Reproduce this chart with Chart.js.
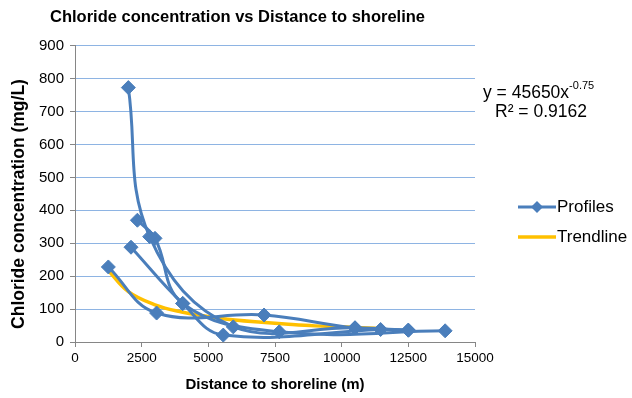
<!DOCTYPE html>
<html>
<head>
<meta charset="utf-8">
<script src="https://cdn.jsdelivr.net/npm/chart.js@4/dist/chart.umd.min.js"></script>
<style>
  html, body { margin: 0; padding: 0; background: #fff; }
  #box { width: 632px; height: 398px; }
</style>
</head>
<body>
<div id="box"><canvas id="chlorideChart"></canvas></div>
<script>
// profiles: [distance (m), chloride (mg/L)]
const profileA = [[2000, 773], [2800, 320], [5935, 46], [10500, 43], [12500, 36]];
const profileB = [[2340, 370], [3000, 315], [4040, 117], [7660, 31], [13880, 34]];
const profileC = [[2100, 288], [4040, 117], [5560, 21], [11460, 38]];
const profileD = [[1250, 228], [3060, 88], [7090, 82], [10500, 43], [12500, 36]];
// power trendline y = 45650x^-0.75, values read at a few distances
const trendX = [1250, 2000, 3000, 4000, 5000, 6000, 7000, 8000, 9000, 10000, 11500];
const trendY = [217, 153, 113, 91, 77, 67, 60, 54, 49, 46, 41];
const xTicks = [0, 2500, 5000, 7500, 10000, 12500, 15000];

const blue = "#4A7EBB";
const gold = "#FFC000";
const FONT = "'Liberation Sans', Arial, sans-serif";
const toPts = arr => arr.map(p => ({ x: p[0], y: p[1] }));

function profileSet(arr, label) {
    return {
        label: label,
        data: toPts(arr),
        borderColor: blue,
        backgroundColor: blue,
        borderWidth: 3,
        pointStyle: "rectRot",
        pointRadius: 7,
        pointBorderWidth: 1,
        showLine: true,
        tension: 0.4,
    };
}

// legend, equation and y title drawn around the plot
const sidePanel = {
    id: "sidePanel",
    afterDraw(chart) {
        const ctx = chart.ctx;
        ctx.save();
        ctx.fillStyle = "#000";
        ctx.textBaseline = "middle";

        // y axis title
        ctx.save();
        ctx.translate(19, 204);
        ctx.rotate(-Math.PI / 2);
        ctx.textAlign = "center";
        ctx.font = "bold 17.5px " + FONT;
        ctx.fillText("Chloride concentration (mg/L)", 0, 0);
        ctx.restore();

        ctx.font = "17.5px " + FONT;
        ctx.fillText("y = 45650x", 483, 93);
        const w = ctx.measureText("y = 45650x").width;
        ctx.font = "11px " + FONT;
        ctx.fillText("-0.75", 483 + w, 86);
        ctx.font = "17.5px " + FONT;
        ctx.fillText("R\u00B2 = 0.9162", 495, 112);

        // Profiles
        ctx.strokeStyle = blue;
        ctx.lineWidth = 3;
        ctx.beginPath();
        ctx.moveTo(518, 207);
        ctx.lineTo(556, 207);
        ctx.stroke();
        ctx.fillStyle = blue;
        ctx.beginPath();
        ctx.moveTo(537, 201);
        ctx.lineTo(543, 207);
        ctx.lineTo(537, 213);
        ctx.lineTo(531, 207);
        ctx.closePath();
        ctx.fill();
        // Trendline
        ctx.strokeStyle = gold;
        ctx.lineWidth = 3.5;
        ctx.beginPath();
        ctx.moveTo(518, 237);
        ctx.lineTo(556, 237);
        ctx.stroke();

        ctx.fillStyle = "#000";
        ctx.font = "17px " + FONT;
        ctx.fillText("Profiles", 557, 207);
        ctx.fillText("Trendline", 557, 237);
        ctx.restore();
    },
};

document.addEventListener("DOMContentLoaded", function () {
    const ctx = document.getElementById("chlorideChart").getContext("2d");
    Chart.defaults.font.family = FONT;
    Chart.defaults.color = "#000";

    new Chart(ctx, {
        type: "scatter",
        data: {
            datasets: [
                profileSet(profileA, "Profiles"),
                profileSet(profileB, "Profiles B"),
                profileSet(profileC, "Profiles C"),
                profileSet(profileD, "Profiles D"),
                {
                    label: "Trendline",
                    data: trendX.map((x, i) => ({ x: x, y: trendY[i] })),
                    borderColor: gold,
                    backgroundColor: gold,
                    borderWidth: 3.5,
                    pointRadius: 0,
                    showLine: true,
                    tension: 0.4,
                },
            ],
        },
        options: {
            responsive: true,
            maintainAspectRatio: false,
            animation: false,
            layout: { padding: { left: 0, right: 157, top: 0, bottom: 0 } },
            plugins: {
                legend: { display: false },
                tooltip: { enabled: false },
                title: {
                    display: true,
                    text: "Chloride concentration vs Distance to shoreline",
                    font: { size: 16.5, weight: "bold" },
                    padding: { top: 8, bottom: 18 },
                },
            },
            scales: {
                x: {
                    type: "linear",
                    min: 0,
                    max: 15000,
                    afterBuildTicks: s => { s.ticks = xTicks.map(v => ({ value: v })); },
                    afterFit: s => { s.height = 56; },
                    ticks: { font: { size: 13.5 }, padding: 3, maxRotation: 0, callback: v => String(v) },
                    grid: { drawOnChartArea: false, tickLength: 5, color: "#868686" },
                    border: { color: "#868686", width: 1 },
                    title: {
                        display: true,
                        text: "Distance to shoreline (m)",
                        font: { size: 15, weight: "bold" },
                        padding: { top: 0, bottom: 4 },
                    },
                },
                y: {
                    min: 0,
                    max: 900,
                    afterFit: s => { s.width = 75; },
                    ticks: { stepSize: 100, font: { size: 15 }, padding: 6 },
                    grid: { color: "#8EB4E3", tickLength: 5, tickColor: "#868686" },
                    border: { color: "#868686", width: 1 },
                },
            },
        },
        plugins: [sidePanel],
    });
});
</script>
</body>
</html>
